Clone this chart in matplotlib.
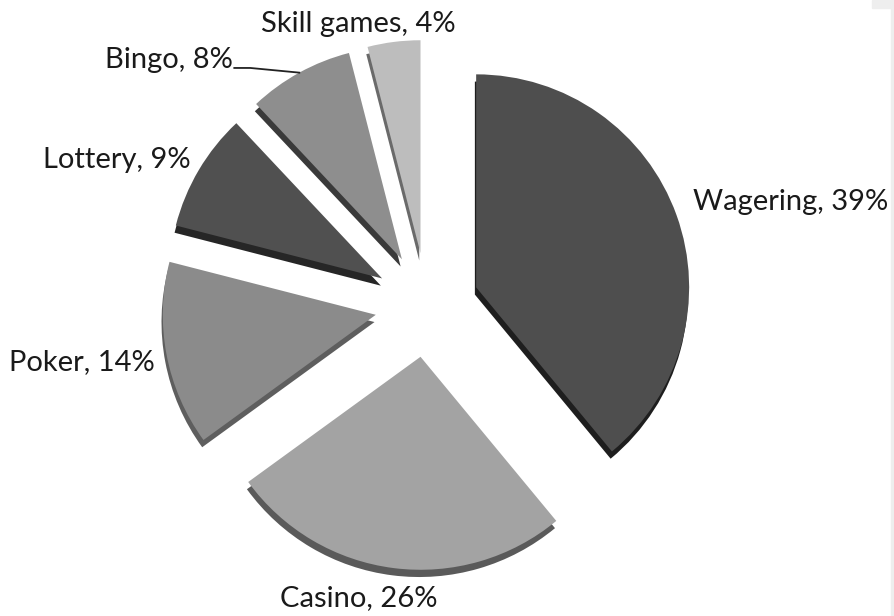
import numpy as np
import matplotlib
matplotlib.use("Agg")
import matplotlib.pyplot as plt
from matplotlib.patches import Rectangle

# data
labels = ["Wagering", "Casino", "Poker", "Lottery", "Bingo", "Skill games"]
shares = [39, 26, 14, 9, 8, 4]
top_colors = ["#4e4e4e", "#a3a3a3", "#8b8b8b", "#505050", "#8e8e8e", "#bdbdbd"]
side_colors = ["#1e1e1e", "#5a5a5a", "#5e5e5e", "#262626", "#3a3a3a", "#6a6a6a"]
explode = [0.245] * len(shares)

# label placement (data units, radius = 1)
label_pos = [(1.25, 0.482), (-0.32, -1.376), (-1.277, -0.268),
             (-1.108, 0.681), (-0.912, 1.152), (-0.324, 1.318)]
label_ha = ["left", "center", "right", "right", "right", "center"]

plt.rcParams['font.family'] = ['Lato', 'DejaVu Sans']

fig = plt.figure(figsize=(8.95, 6.16), dpi=100)
ax = fig.add_axes([0, 0, 1, 1])

# thickness of slices: darker copy shifted down
ax.pie(shares, explode=explode, startangle=90, counterclock=False,
       colors=side_colors, center=(-0.006, -0.034),
       wedgeprops=dict(linewidth=0))
wedges, _ = ax.pie(shares, explode=explode, startangle=90, counterclock=False,
                   colors=top_colors, wedgeprops=dict(linewidth=0))

for lab, val, (x, y), ha in zip(labels, shares, label_pos, label_ha):
    ax.text(x, y, f"{lab}, {val}%", ha=ha, va="center", fontsize=21,
            color="#1a1a1a")

# leader line for Bingo
w = wedges[4]
mid = np.deg2rad((w.theta1 + w.theta2) / 2)
px, py = np.array(w.center) + np.array([np.cos(mid), np.sin(mid)])
ax.plot([-0.905, -0.83, px], [1.113, 1.113, py], color="#222222", lw=1.3)

ax.set_aspect("equal")
ax.set_xlim(-2.005, 2.197)
ax.set_ylim(-1.460, 1.432)
ax.axis("off")

# light border strip on the right edge
fig.patches.append(Rectangle((891 / 895, 0), 4 / 895, 608 / 616,
                             transform=fig.transFigure, color="#eeeeee"))
fig.patches.append(Rectangle((872 / 895, 608 / 616), 23 / 895, 8 / 616,
                             transform=fig.transFigure, color="#eeeeee"))

fig.savefig("out.png", dpi=100)
